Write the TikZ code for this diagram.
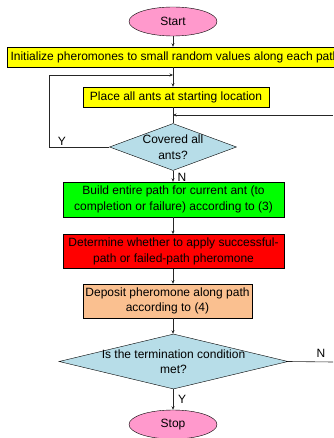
\documentclass[tikz,border=0pt]{standalone}
\usepackage{fontspec}
\setmainfont{Liberation Sans}
\usetikzlibrary{positioning}
\usetikzlibrary{arrows.meta}
\usetikzlibrary{shapes.geometric}
\definecolor{termpink}{HTML}{FF99CC}
\definecolor{stepyellow}{HTML}{FFFF00}
\definecolor{askblue}{HTML}{B7DDE8}
\definecolor{buildgreen}{HTML}{00FF00}
\definecolor{decidered}{HTML}{FF0000}
\definecolor{depositorange}{HTML}{FAC090}

\begin{document}
\begin{tikzpicture}[x=1pt, y=-1pt, >={Stealth[length=3.5pt,width=3pt]},
  every node/.style={font=\fontsize{12}{15.5}\selectfont, align=center},
  terminal/.style={ellipse, draw, fill=termpink, minimum width=88, minimum height=29, inner sep=0},
  stepbox/.style={rectangle, draw, minimum height=20, inner sep=0},
  ask/.style={diamond, draw, fill=askblue, inner xsep=-20pt, inner ysep=-8pt},
  flow/.style={draw=black!85, line width=0.6pt}]
  \useasboundingbox (0,0) rectangle (333,438);

  % Start and the setup steps
  \node[terminal] (start) at (173,21.5) {Start};
  \node[stepbox, fill=stepyellow, minimum width=336] (init) at (175,57)
    {Initialize pheromones to small random values along each path};
  \node[stepbox, fill=stepyellow, minimum width=186] (place) at (176,97)
    {Place all ants at starting location};

  % Inner loop over the ants
  \node[ask, aspect=2.7, minimum width=127, minimum height=47] (covered) at (173,147)
    {Covered all\\ants?};
  \node[stepbox, fill=buildgreen, minimum width=221, minimum height=35] (build) at (173.5,199.5)
    {Build entire path for current ant (to\\completion or failure) according to (3)};
  \node[stepbox, fill=decidered, minimum width=221, minimum height=34] (decide) at (173.5,251.3)
    {Determine whether to apply successful-\\path or failed-path pheromone};
  \node[stepbox, fill=depositorange, minimum width=169, minimum height=34] (deposit) at (167.5,301)
    {Deposit pheromone along path\\according to (4)};

  % Termination test
  \node[ask, aspect=4.16, minimum width=229, minimum height=55] (term) at (173.5,361.5)
    {Is the termination condition\\met?};
  \node[terminal] (stop) at (173,424.5) {Stop};

  % Connectors
  \coordinate (topjoin) at (173,75);
  \coordinate (antjoin) at (173,115);
  \coordinate (backin) at (333,115);
  \coordinate (backout) at (333,362);

  \draw[flow, ->] (start.south) -- (start.south |- init.north);
  \draw[flow, ->] (init.south -| topjoin) -- (place.north -| topjoin);
  \draw[flow] (place.south -| topjoin) -- (covered.north);
  \draw[flow, ->] (covered.west) -- ++(-60,0) |- (topjoin);
  \draw[flow, ->] (backin) -- (antjoin);
  \draw[flow, ->] (covered.south) -- (covered.south |- build.north);
  \draw[flow, ->] (build.south -| covered.south) -- (decide.north -| covered.south);
  \draw[flow, ->] (decide.south -| covered.south) -- (deposit.north -| covered.south);
  \draw[flow, ->] (deposit.south -| covered.south) -- (term.north -| covered.south);
  \draw[flow] (term.east) -- (backout);
  \draw[flow, ->] (term.south -| stop.north) -- (stop.north);

  % Branch labels
  \node (ylab1) at (62,141) {Y};
  \node (nlab1) at (182,177) {N};
  \node (nlab2) at (321,353) {N};
  \node (ylab2) at (182,399) {Y};
\end{tikzpicture}
\end{document}
